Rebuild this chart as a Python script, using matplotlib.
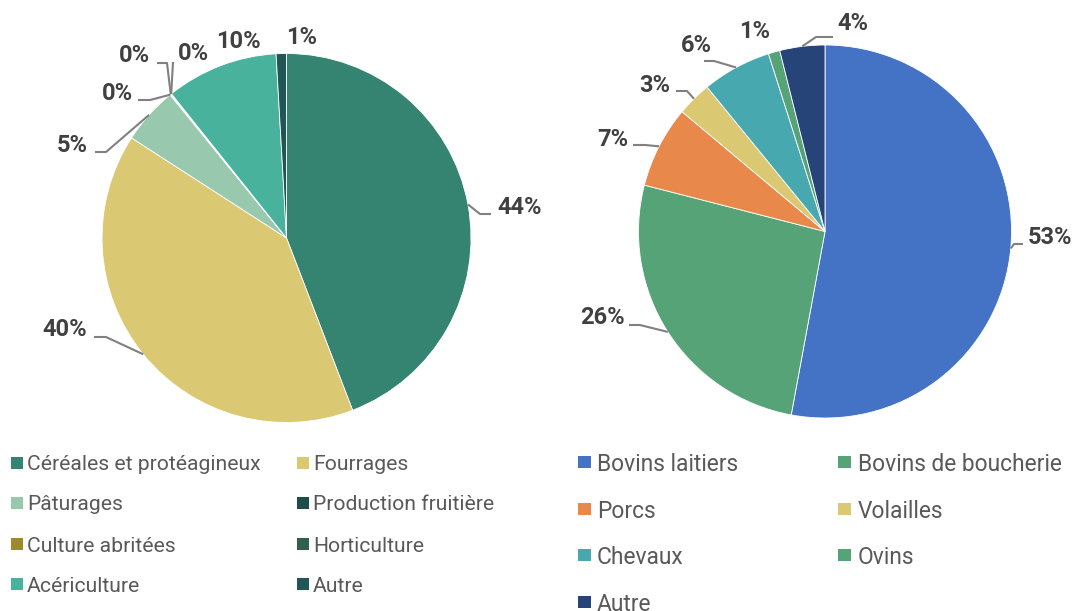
import matplotlib
matplotlib.use("Agg")
import matplotlib.pyplot as plt
from matplotlib.patches import Rectangle
import numpy as np

# ---------------- data ----------------
crop_categories = ["Céréales et protéagineux", "Fourrages", "Pâturages",
                   "Production fruitière", "Culture abritées", "Horticulture",
                   "Acériculture", "Autre"]
crop_values = [44.1, 39.9, 5.0, 0.05, 0.05, 0.05, 9.8, 0.9]

animal_categories = ["Bovins laitiers", "Bovins de boucherie", "Porcs", "Volailles",
                     "Chevaux", "Ovins", "Autre"]
animal_values = [52.9, 26.1, 7.1, 3.0, 6.0, 1.0, 3.9]

# ---------------- style / layout ----------------
crop_colors = ["#358371", "#DAC872", "#98C9AF", "#1F4E4A", "#9C8B2C",
               "#33604A", "#48B29C", "#225555"]
animal_colors = ["#4472C4", "#56A377", "#E8894B", "#DAC872", "#48A8B0",
                 "#56A377", "#264478"]

W, H = 1072, 611
FONT = "Roboto"
LABEL_COLOR = "#404040"
LEGEND_COLOR = "#595959"
LINE_COLOR = "#808080"

# pie geometry in image pixels (y measured from top)
crop_center, crop_radius = (286.5, 238.0), 184.5
animal_center, animal_radius = (825.0, 231.5), 186.5

# label text centres and leader polylines (image px); None = no leader
crop_label_xy = [(520, 208), (65, 330), (72, 145), (117, 93), (134, 56),
                 (193, 54), (238, 42), (302, 38)]
crop_leader = [[(480, 214), (491, 214)], [(106, 337), (94, 337)],
               [(106, 152), (95, 152)], [(150, 100), (138, 100)],
               [(167, 63), (157, 63)], [(173, 62)], None, None]

animal_label_xy = [(1050, 238), (602, 318), (613, 139), (655, 86), (696, 46),
                   (755, 32), (853, 23)]
animal_leader = [[(1014, 244), (1023, 244)], [(640, 325), (629, 325)],
                 [(645, 145), (633, 145)], [(687, 91), (676, 91)],
                 [(714, 61), (704, 61)], None, [(816, 37), (833, 37)]]

fig = plt.figure(figsize=(W / 100, H / 100), dpi=100)
fig.patch.set_facecolor("white")
ax = fig.add_axes([0, 0, 1, 1])


def Y(y):
    return H - y


def draw_pie(values, colors, center, radius, label_xy, leaders):
    wedges, _ = ax.pie(values, colors=colors, startangle=90, counterclock=False,
                       center=(center[0], Y(center[1])), radius=radius,
                       wedgeprops=dict(edgecolor="white", linewidth=0.6))
    total = sum(values)
    for w, v, (tx, ty), lead in zip(wedges, values, label_xy, leaders):
        pct = f"{round(100 * v / total):.0f}%"
        ax.text(tx, Y(ty), pct, ha="center", va="center", fontsize=17,
                fontweight="bold", color=LABEL_COLOR, family=FONT)
        if lead is not None:
            th = np.deg2rad((w.theta1 + w.theta2) / 2)
            sx = w.center[0] + w.r * np.cos(th)
            sy = w.center[1] + w.r * np.sin(th)
            xs = [sx] + [p[0] for p in lead]
            ys = [sy] + [Y(p[1]) for p in lead]
            ax.plot(xs, ys, color=LINE_COLOR, lw=1.5, solid_capstyle="butt")
    return wedges


draw_pie(crop_values, crop_colors, crop_center, crop_radius, crop_label_xy, crop_leader)
draw_pie(animal_values, animal_colors, animal_center, animal_radius, animal_label_xy, animal_leader)


def draw_legend(labels, colors, x_marker, x_text, y_rows, size, fontsize):
    for i, (lab, col) in enumerate(zip(labels, colors)):
        r, c = divmod(i, 2)
        yc = y_rows[r]
        ax.add_patch(Rectangle((x_marker[c], Y(yc) - size / 2), size, size,
                               facecolor=col, edgecolor="none"))
        ax.text(x_text[c], Y(yc), lab, ha="left", va="center_baseline",
                fontsize=fontsize, color=LEGEND_COLOR, family=FONT)


draw_legend(crop_categories, crop_colors, (11, 297), (27, 313),
            (463, 503, 544, 584), 11.5, 15.2)
draw_legend(animal_categories, animal_colors, (578, 838), (597, 858),
            (462, 509, 555, 602), 12.5, 16.4)

ax.set_xlim(0, W)
ax.set_ylim(0, H)
ax.set_aspect("auto")
ax.axis("off")

fig.savefig("out.png", dpi=100, facecolor="white")
